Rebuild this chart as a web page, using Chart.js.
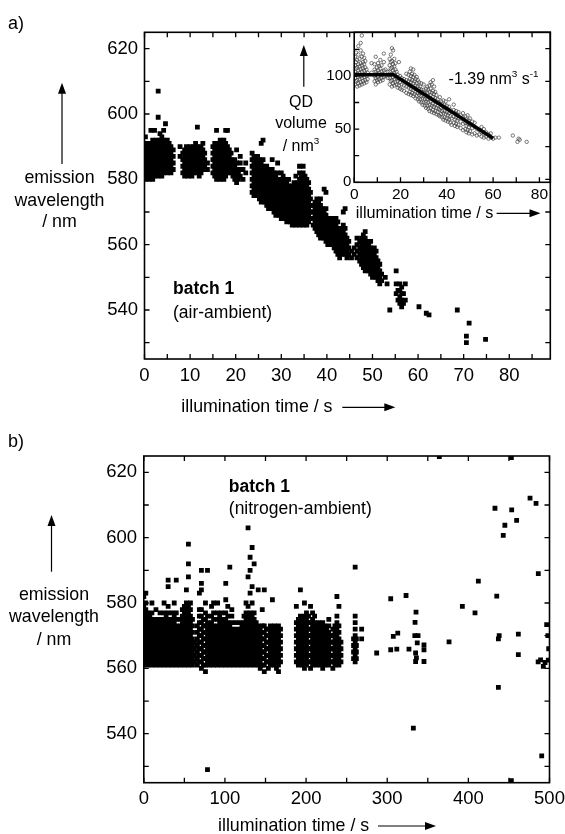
<!DOCTYPE html>
<html>
<head>
<meta charset="utf-8">
<title>QD emission wavelength vs illumination time</title>
<script src="https://cdn.jsdelivr.net/npm/chart.js@4.4.0/dist/chart.umd.min.js"></script>
<style>
    html, body { margin: 0; padding: 0; background: #fff; }
    #figure { position: relative; width: 565px; height: 834px; overflow: hidden; }
    #figure canvas { position: absolute; left: 0; }
    #inset-chart, #air-chart { top: 0; }
    #nitrogen-chart { top: 420px; }
</style>
</head>
<body>
<div id="figure">
    <canvas id="inset-chart" width="565" height="420"></canvas>
    <canvas id="air-chart" width="565" height="420"></canvas>
    <canvas id="nitrogen-chart" width="565" height="414"></canvas>
</div>
<script>
// ---- data ----
// each column: [illumination time (s), wavelength (nm), wavelength, ...]
const airColumns = [
    [0.2, 580, 582, 584, 586, 588, 590, 593], [0.6, 581, 583, 585, 587, 589, 591],
    [1.0, 580, 582, 584, 586, 588, 590], [1.4, 581, 583, 585, 587, 589, 591, 595],
    [1.8, 580, 582, 584, 586, 588, 590, 592], [2.2, 581, 583, 585, 587, 589, 591, 595],
    [2.6, 582, 584, 586, 588, 590, 592], [3.0, 581, 583, 585, 587, 589, 591, 599, 607],
    [3.4, 582, 584, 586, 588, 590, 592, 594], [3.8, 581, 583, 585, 587, 589, 591, 593],
    [4.2, 582, 584, 586, 588, 590, 592, 595], [4.6, 583, 585, 587, 589, 591, 597],
    [5.0, 582, 584, 586, 588, 590, 592], [5.4, 583, 585, 587, 589, 591],
    [5.8, 582, 584, 586, 588, 590], [6.3, 583, 585, 587, 589], [7.8, 587, 590],
    [8.4, 582, 584, 586, 588], [8.8, 581, 583, 585, 587, 589], [9.2, 582, 584, 586, 588, 590],
    [9.6, 581, 583, 585, 587, 589], [10.0, 582, 584, 586, 588, 590], [10.4, 581, 583, 585, 587, 589],
    [10.8, 582, 584, 586, 588, 590], [11.2, 583, 585, 587, 589, 591], [11.6, 582, 584, 586, 588, 590, 596],
    [12.0, 581, 583, 585, 587, 589], [12.4, 582, 584, 586, 588, 590], [12.8, 583, 585, 587, 589, 591],
    [13.2, 584, 586, 588], [13.8, 583, 585],
    [15.0, 582, 584, 586, 588, 590], [15.4, 581, 583, 585, 587, 589, 591],
    [15.8, 580, 582, 584, 586, 588, 590, 595], [16.2, 581, 583, 585, 587, 589, 591],
    [16.6, 580, 582, 584, 586, 588, 590, 592], [17.0, 581, 583, 585, 587, 589, 591],
    [17.4, 580, 582, 584, 586, 588, 590, 592], [17.8, 581, 583, 585, 587, 589, 591, 595],
    [18.2, 582, 584, 586, 588, 590, 595], [18.6, 583, 585, 587, 589], [19.0, 582, 584, 586, 588],
    [19.4, 581, 583, 585], [19.8, 580, 582, 584, 586], [20.2, 579, 581, 583, 585, 589],
    [20.6, 580, 582], [21.0, 581, 583, 585, 587], [21.6, 580, 583], [22.2, 582, 585],
    [23.6, 576, 578, 580, 582, 584, 586, 588], [24.0, 575, 577, 579, 581, 583, 585, 587],
    [24.4, 576, 578, 580, 582, 584, 586], [24.8, 575, 577, 579, 581, 583, 585, 587],
    [25.2, 574, 576, 578, 580, 582, 584, 586], [25.6, 573, 575, 577, 579, 581, 583, 585, 591],
    [26.0, 574, 576, 578, 580, 582, 584, 586, 592], [26.4, 573, 575, 577, 579, 581, 583],
    [26.8, 572, 574, 576, 578, 580, 582, 584], [27.2, 571, 573, 575, 577, 579, 581, 583],
    [27.6, 572, 574, 576, 578, 580, 582], [28.0, 571, 573, 575, 577, 579, 581, 583, 586],
    [28.4, 570, 572, 574, 576, 578, 580, 582], [28.8, 569, 571, 573, 575, 577, 579, 581],
    [29.2, 570, 572, 574, 576, 578, 580, 582, 585], [29.6, 569, 571, 573, 575, 577, 579],
    [30.0, 568, 570, 572, 574, 576, 578, 580, 582], [30.4, 569, 571, 573, 575, 577, 579, 581],
    [30.8, 568, 570, 572, 574, 576, 578, 580], [31.2, 567, 569, 571, 573, 575, 577, 579],
    [31.6, 568, 570, 572, 574, 576, 578, 580], [32.0, 567, 569, 571, 573, 575, 577],
    [32.4, 566, 568, 570, 572, 574, 576, 578], [32.8, 567, 569, 571, 573, 575, 577, 579],
    [33.2, 566, 568, 570, 572, 574, 576, 578, 581], [33.6, 567, 569, 571, 573, 575, 577, 579],
    [34.0, 566, 568, 570, 572, 574, 576, 578, 580, 582, 584], [34.4, 567, 569, 571, 573, 575, 577, 579, 581],
    [34.8, 566, 568, 570, 572, 574, 576, 578, 580, 582, 584], [35.2, 567, 569, 571, 573, 575, 577, 579, 581],
    [35.6, 566, 568, 570, 572, 574, 576, 578, 580], [36.0, 567, 569, 571, 573, 575, 577, 579],
    [36.4, 568, 570, 572, 574, 576],
    [37.0, 566, 568, 570, 572], [37.4, 565, 567, 569, 571, 573], [37.8, 564, 566, 568, 570, 572, 574],
    [38.2, 563, 565, 567, 569, 571, 573], [38.6, 562, 564, 566, 568, 570, 572, 574],
    [39.0, 563, 565, 567, 569, 571], [39.4, 562, 564, 566, 568, 570, 577],
    [39.8, 561, 563, 565, 567, 569, 571, 576], [40.2, 560, 562, 564, 566, 568], [40.6, 561, 563, 565, 567],
    [41.2, 560, 562, 564, 566, 568], [41.6, 559, 561, 563, 565, 567], [42.0, 558, 560, 562, 564, 566, 568],
    [42.4, 557, 559, 561, 563, 565, 567], [42.8, 556, 558, 560, 562, 564], [43.2, 557, 559, 561, 563, 565],
    [43.6, 558, 560, 562, 564, 566, 570], [44.0, 557, 559, 561, 563, 565, 571], [44.4, 556, 558, 560, 562],
    [44.8, 557, 559, 561], [45.4, 556, 558], [46.0, 557, 559],
    [46.6, 556, 558, 560, 562], [47.2, 555, 557, 559, 561], [47.6, 554, 556, 558, 560, 562],
    [48.0, 553, 555, 557, 559, 561, 563], [48.4, 552, 554, 556, 558, 560, 562, 564],
    [48.8, 553, 555, 557, 559, 561], [49.2, 552, 554, 556, 558, 560], [49.6, 551, 553, 555, 557, 559, 561],
    [50.0, 550, 552, 554, 556, 558], [50.4, 551, 553, 555, 557, 559], [50.8, 550, 552, 554, 556, 558],
    [51.2, 549, 551, 553, 555], [51.6, 548, 550, 552, 554], [52.0, 549, 551],
    [52.8, 550], [53.2, 548], [53.8, 540], [55.2, 545, 548, 552], [55.6, 543, 546],
    [56.0, 542, 544, 546, 548], [56.4, 541, 543, 545, 547], [56.8, 542, 545], [57.2, 543, 548],
    [60.2, 541], [61.8, 539], [62.4, 538.5], [68.6, 540], [70.6, 530, 532], [71.2, 536], [74.8, 531]
];

// inset: [time (s), QD volume (nm^3), ...]
const volumeColumns = [
    [0.3, 92, 98, 104, 110, 118], [0.8, 95, 101, 107, 113, 122], [1.3, 90, 96, 102, 108, 115],
    [1.8, 93, 99, 105, 111, 120, 128], [2.3, 91, 97, 103, 109, 116], [2.8, 94, 100, 106, 112, 124, 131],
    [3.3, 92, 98, 104, 110, 118, 138], [3.8, 95, 101, 107, 113, 121], [4.3, 93, 99, 105, 111, 117],
    [4.8, 96, 102, 108, 114], [5.3, 94, 100, 106], [5.8, 97, 103], [7.5, 103, 112],
    [8.8, 95, 100, 106, 111], [9.3, 92, 98, 104, 118], [9.8, 96, 102, 108], [10.3, 94, 99, 105, 112],
    [10.8, 97, 103, 109], [11.3, 95, 101, 107, 115], [11.8, 98, 104, 110], [12.3, 96, 102],
    [12.8, 99, 105, 113, 121], [13.5, 100, 106], [14.5, 98, 104],
    [15.3, 92, 98, 104, 110, 116], [15.8, 95, 101, 107, 113, 120], [16.3, 90, 96, 102, 108, 114, 126],
    [16.8, 93, 99, 105, 111, 124], [17.3, 91, 97, 103, 109, 116], [17.8, 94, 100, 106, 112],
    [18.3, 92, 98, 104], [18.8, 89, 95, 101], [19.3, 91, 97, 113], [19.8, 88, 94, 100],
    [20.5, 87, 92, 98], [21.5, 86, 91, 97], [22.5, 84, 90, 96, 102], [23.5, 83, 89, 95, 101],
    [24.0, 85, 91, 97, 104], [24.5, 82, 88, 94, 100, 107], [25.0, 84, 90, 96, 102],
    [25.5, 81, 87, 93, 99, 106], [26.0, 83, 89, 95, 101], [26.5, 79, 85, 91, 97], [27.0, 81, 87, 93, 99],
    [27.5, 78, 84, 90, 96], [28.0, 76, 82, 88, 94], [28.5, 78, 84, 90], [29.0, 75, 81, 87, 93],
    [29.5, 73, 79, 85], [30.0, 75, 81, 87, 92], [30.5, 72, 78, 84], [31.0, 70, 76, 82, 88],
    [31.5, 72, 78, 84, 90], [32.0, 69, 75, 81, 87], [32.5, 67, 73, 79, 85, 91], [33.0, 70, 76, 82, 88, 94],
    [33.5, 66, 72, 78, 84, 92], [34.0, 68, 74, 80, 86, 96], [34.5, 65, 71, 77, 83, 90], [35.0, 67, 73, 79, 85],
    [35.5, 64, 70, 76, 82], [36.0, 66, 72, 78], [36.5, 63, 69, 75], [37.0, 62, 68, 74, 80],
    [37.5, 64, 70, 76], [38.0, 61, 67, 73], [38.5, 59, 65, 71, 77], [39.0, 61, 67, 73],
    [39.5, 58, 64, 70, 76], [40.0, 60, 66, 72], [40.5, 57, 63, 69], [41.0, 59, 65, 71, 78],
    [41.5, 56, 62, 68], [42.0, 54, 60, 66], [43.0, 56, 62, 68, 73], [43.5, 53, 59, 65],
    [44.0, 55, 61, 67], [44.5, 52, 58, 64], [45.0, 54, 60, 66], [46.0, 51, 57, 63],
    [47.0, 49, 55, 61, 65], [48.0, 50, 56, 62], [48.5, 47, 53, 59], [49.0, 49, 55, 63],
    [49.5, 46, 52, 58], [50.0, 48, 54, 60], [51.0, 45, 51, 57], [52.0, 46, 52, 56], [53.0, 44, 50],
    [54.0, 45, 49], [55.0, 43, 47, 52], [56.0, 42, 46, 50], [57.0, 43, 47], [58.0, 41, 45],
    [59.0, 42, 46], [60.0, 41], [61.0, 42], [62.5, 42], [68.5, 44], [70.5, 38], [71.0, 41],
    [71.5, 40], [74.5, 38]
];
const fitTimes = [0, 17, 60];
const fitVolumes = [101, 101, 41.5];

// nitrogen ambient: dense columns, then isolated points [time, wavelength]
const nitrogenColumns = [
    [0, 561, 563, 565, 567, 569, 571, 573, 575, 577, 579, 582],
    [2.5, 562, 564, 566, 568, 570, 572, 574, 576, 578, 580, 583],
    [5, 561, 563, 565, 567, 569, 571, 573, 575, 577], [7.5, 562, 564, 566, 568, 570, 572, 574, 576],
    [10, 561, 563, 565, 567, 569, 571, 573, 575, 577, 580], [12.5, 562, 564, 566, 568, 570, 572, 574],
    [15, 561, 563, 565, 567, 569, 571, 573, 575, 578], [17.5, 562, 564, 566, 568, 570, 572, 574],
    [20, 561, 563, 565, 567, 569, 571, 573, 575, 577], [22.5, 562, 564, 566, 568, 570, 572, 574],
    [25, 561, 563, 565, 567, 569, 571, 573, 575, 577, 580], [27.5, 562, 564, 566, 568, 570, 572, 574, 576],
    [30, 561, 563, 565, 567, 569, 571, 573, 575, 577, 579, 585, 587], [32.5, 562, 564, 566, 568, 570, 572, 574],
    [35, 561, 563, 565, 567, 569, 571, 573, 575, 577], [37.5, 562, 564, 566, 568, 570, 572, 574, 576, 580],
    [40, 561, 563, 565, 567, 569, 571, 573, 575, 577, 587], [42.5, 562, 564, 566, 568, 570, 572],
    [45, 561, 563, 565, 567, 569, 571, 573, 575], [47.5, 562, 564, 566, 568, 570, 572, 574, 576, 578],
    [50, 561, 563, 565, 567, 569, 571, 573, 575, 577, 579],
    [52.5, 562, 564, 566, 568, 570, 572, 574, 576, 578, 580, 584],
    [55, 561, 563, 565, 567, 569, 571, 573, 575, 577, 579, 588, 592, 598],
    [57.5, 562, 564, 566, 568, 570, 572, 574, 576, 578, 580],
    [60, 561, 563, 565, 567, 569, 571, 573, 575], [62.5, 562, 564, 566, 568],
    [66, 561, 563, 565, 567, 569, 571, 573], [68.5, 562, 564, 566, 568, 570, 572, 574, 576, 578, 583],
    [71, 560, 562, 564, 566, 568, 570, 572, 574, 576, 578, 584, 586, 590],
    [73.5, 561, 563, 565, 567, 569, 571, 573, 575],
    [76, 559, 561, 563, 565, 567, 569, 571, 573, 575, 577, 580],
    [78.5, 562, 564, 566, 568, 570, 572, 574, 576, 590, 529], [81, 561, 563, 565, 567, 569, 571, 573],
    [83.5, 562, 564, 566, 568, 570, 572, 574, 576, 579], [86, 561, 563, 565, 567, 569, 571, 573, 575, 577, 580],
    [88.5, 562, 564, 566, 568, 570, 572], [91, 561, 563, 565, 567, 569, 571, 573, 575, 577, 580],
    [93.5, 562, 564, 566, 568, 570, 572, 574, 576], [96, 561, 563, 565, 567, 569, 571, 573, 575, 577],
    [98.5, 562, 564, 566, 568, 570, 572, 574], [101, 561, 563, 565, 567, 569, 571, 573, 575, 577, 581, 586],
    [103.5, 562, 564, 566, 568, 570, 572, 574, 576, 579], [106, 561, 563, 565, 567, 569, 571, 573, 591],
    [108.5, 562, 564, 566, 568, 570, 572, 574, 576, 578], [111, 561, 563, 565, 567, 569, 571],
    [113.5, 562, 564, 566, 568, 570, 572, 574], [116, 561, 563, 565, 567, 569, 571],
    [118.5, 562, 564, 566, 568, 570, 572, 574], [121, 561, 563, 565, 567, 569, 571, 573],
    [123.5, 562, 564, 566, 568, 570, 572, 574, 576], [126, 561, 563, 565, 567, 569, 571, 573, 575, 577, 580],
    [128.5, 562, 564, 566, 568, 570, 572, 574, 576, 579, 588, 603],
    [131, 561, 563, 565, 567, 569, 571, 573, 575, 577, 583, 590, 594],
    [133.5, 562, 564, 566, 568, 570, 572, 574, 576, 580, 585, 597],
    [136, 561, 563, 565, 567, 569, 571, 573, 575, 577, 592], [138.5, 562, 564, 566, 568, 570, 572, 574],
    [141, 561, 563, 565, 567, 569, 571, 573, 584], [143.5, 560, 562, 564, 566, 568, 570, 572],
    [146, 561, 563, 565, 567, 569, 571, 573, 578], [148.5, 559, 561, 563, 565, 567, 569, 571, 573, 584],
    [151, 562, 564, 566, 568, 570, 572], [153.5, 560, 562, 564, 566, 568, 570, 572],
    [156, 561, 563, 565, 567, 569, 571, 573], [158.5, 562, 564, 566, 568, 570, 572, 581],
    [161, 561, 563, 565, 567, 569, 571, 573], [163.5, 560, 562, 564, 566, 568, 570, 572],
    [166, 559, 561, 563, 565, 567, 569, 571, 573], [168.5, 562, 564, 566, 568, 570, 572],
    [188, 562, 564, 566, 568, 570, 572, 574, 579], [190.5, 561, 563, 565, 567, 569, 571, 573, 575],
    [193, 562, 564, 566, 568, 570, 572, 574, 576, 584], [195.5, 561, 563, 565, 567, 569, 571, 573, 575],
    [198, 560, 562, 564, 566, 568, 570, 572, 574, 576, 580], [200.5, 561, 563, 565, 567, 569, 571, 573, 575, 577],
    [203, 562, 564, 566, 568, 570, 572, 574, 576], [205.5, 560, 562, 564, 566, 568, 570, 572, 574, 579],
    [208, 561, 563, 565, 567, 569, 571, 573, 575, 577], [210.5, 562, 564, 566, 568, 570, 572, 574, 576],
    [213, 561, 563, 565, 567, 569, 571, 573], [215.5, 562, 564, 566, 568, 570, 572, 574],
    [218, 561, 563, 565, 567, 569, 571, 573], [220.5, 560, 562, 564, 566, 568, 570, 572, 574],
    [223, 561, 563, 565, 567, 569, 571, 573], [225.5, 562, 564, 566, 568, 570, 572],
    [228, 561, 563, 565, 567, 569, 571, 573, 575], [230.5, 562, 564, 566, 568, 570],
    [233, 560, 562, 564, 566, 568, 570, 572], [235.5, 561, 563, 565, 567, 569, 571, 573],
    [238, 562, 564, 566, 568, 570, 572, 574, 576, 582], [240.5, 561, 563, 565, 567, 569, 571, 573, 579],
    [243, 562, 564, 566, 568],
    [258.5, 563, 565, 567, 569], [260.5, 562, 564, 566, 568, 570, 572, 574, 576, 591],
    [262, 563, 565, 567, 569], [268.5, 569, 572]
];
const nitrogenScatter = [
    [287, 564.7], [304.3, 581.3], [304.3, 565.7], [307.5, 569.8], [311.8, 565.9], [313, 570.8],
    [323.2, 582.3], [326.8, 565.9], [332.2, 541.7], [334.3, 574.1], [334, 570], [335, 564.7],
    [335, 562.1], [335.5, 577.2], [337, 567.8], [338, 570], [336, 563.2], [345.3, 567.2],
    [345.3, 565.7], [345.3, 562.1], [364.2, 624.8], [376.2, 568.1], [392.6, 579], [408.2, 577],
    [412.3, 586.7], [432.8, 609], [435, 582.1], [437, 569], [438, 570], [437, 554.2],
    [443, 600.7], [445, 603.8], [453.4, 608.5], [453, 624.5], [453, 525.6], [459.5, 605.3],
    [461.6, 570.5], [461.6, 564.2], [476, 612.1], [483.4, 610.5], [486.2, 589], [486, 562],
    [489, 562.6], [490.4, 533.2], [492.4, 560.6], [494.5, 561.8], [496.5, 573.4], [498, 570],
    [499, 566], [498.5, 562.5]
];

const airTimeTicks = [0, 5, 10, 15, 20, 25, 30, 35, 40, 45, 50, 55, 60, 65, 70, 75, 80, 85];
const wavelengthTicks = [530, 540, 550, 560, 570, 580, 590, 600, 610, 620];
const insetTimeTicks = [0, 10, 20, 30, 40, 50, 60, 70, 80];
const volumeTicks = [0, 25, 50, 75, 100, 125];
const nitrogenTimeTicks = [0, 50, 100, 150, 200, 250, 300, 350, 400, 450, 500];

// ---- helpers ----
const FONT = '"Liberation Sans", Arial, Helvetica, sans-serif';
Chart.defaults.font.family = FONT;
Chart.defaults.color = '#000';
const TICK_LEN = 5;

function columnsToPoints(columns) {
    const points = [];
    columns.forEach(col => {
        col.slice(1).forEach(v => points.push({ x: col[0], y: v }));
    });
    return points;
}

function axis(min, max, tickValues, label, fontSize, padding, size) {
    return {
        type: 'linear',
        min: min,
        max: max,
        grid: { display: false, drawTicks: false },
        border: { display: false },
        ticks: {
            autoSkip: false,
            maxRotation: 0,
            padding: padding,
            color: '#000',
            font: { size: fontSize, lineHeight: 1 },
            callback: label
        },
        afterBuildTicks: s => { s.ticks = tickValues.map(v => ({ value: v })); },
        afterFit: s => {
            if (s.isHorizontal()) s.height = size; else s.width = size;
            s.paddingLeft = s.paddingRight = s.paddingTop = s.paddingBottom = 0;
        }
    };
}

function drawText(ctx, runs, x, y, size, align, bold) {
    const font = s => (bold ? 'bold ' : '') + s + 'px ' + FONT;
    const supSize = size * 0.62;
    let width = 0;
    runs.forEach(([t, sup]) => { ctx.font = font(sup ? supSize : size); width += ctx.measureText(t).width; });
    let cx = align === 'center' ? x - width / 2 : x;
    ctx.textAlign = 'left';
    ctx.textBaseline = 'middle';
    ctx.fillStyle = '#000';
    runs.forEach(([t, sup]) => {
        ctx.font = font(sup ? supSize : size);
        ctx.fillText(t, cx, sup ? y - size * 0.36 : y);
        cx += ctx.measureText(t).width;
    });
}

function arrowUp(ctx, x, tip, base) {
    ctx.beginPath();
    ctx.moveTo(x, base); ctx.lineTo(x, tip + 8);
    ctx.lineWidth = 1.2; ctx.strokeStyle = '#000'; ctx.stroke();
    ctx.beginPath();
    ctx.moveTo(x, tip); ctx.lineTo(x - 4, tip + 11); ctx.lineTo(x + 4, tip + 11); ctx.closePath();
    ctx.fillStyle = '#000'; ctx.fill();
}

function arrowRight(ctx, base, tip, y) {
    ctx.beginPath();
    ctx.moveTo(base, y); ctx.lineTo(tip - 8, y);
    ctx.lineWidth = 1.2; ctx.strokeStyle = '#000'; ctx.stroke();
    ctx.beginPath();
    ctx.moveTo(tip, y); ctx.lineTo(tip - 11, y - 4); ctx.lineTo(tip - 11, y + 4); ctx.closePath();
    ctx.fillStyle = '#000'; ctx.fill();
}

function frameAndTicks(chart, sides) {
    const ctx = chart.ctx;
    const { left, right, top, bottom } = chart.chartArea;
    const xs = chart.scales.x, ys = chart.scales.y;
    ctx.save();
    ctx.strokeStyle = '#000';
    ctx.lineWidth = 1.3;
    ctx.beginPath();
    xs.ticks.forEach(t => {
        const px = xs.getPixelForValue(t.value);
        if (sides.includes('bottom')) { ctx.moveTo(px, bottom); ctx.lineTo(px, bottom - TICK_LEN); }
        if (sides.includes('top')) { ctx.moveTo(px, top); ctx.lineTo(px, top + TICK_LEN); }
    });
    ys.ticks.forEach(t => {
        const py = ys.getPixelForValue(t.value);
        if (sides.includes('left')) { ctx.moveTo(left, py); ctx.lineTo(left + TICK_LEN, py); }
        if (sides.includes('right')) { ctx.moveTo(right, py); ctx.lineTo(right - TICK_LEN, py); }
    });
    ctx.stroke();
    ctx.lineWidth = 1.6;
    ctx.strokeRect(left, top, right - left, bottom - top);
    ctx.restore();
}

const baseOptions = {
    responsive: false,
    animation: false,
    devicePixelRatio: 1,
    plugins: { legend: { display: false }, tooltip: { enabled: false } }
};

// ---- inset (drawn underneath panel a) ----
new Chart(document.getElementById('inset-chart'), {
    type: 'scatter',
    data: {
        datasets: [
            {
                type: 'line',
                data: fitTimes.map((t, i) => ({ x: t, y: fitVolumes[i] })),
                borderColor: '#000',
                borderWidth: 3.5,
                pointRadius: 0,
                fill: false
            },
            {
                data: columnsToPoints(volumeColumns),
                pointStyle: 'circle',
                pointRadius: 1.7,
                backgroundColor: 'rgba(0,0,0,0)',
                borderColor: '#404040',
                borderWidth: 0.7
            }
        ]
    },
    options: {
        ...baseOptions,
        layout: { padding: { top: 32.3, right: 14.7, left: 0, bottom: 0 } },
        scales: {
            x: axis(0, 84.7, insetTimeTicks, v => (v % 20 === 0 ? String(v) : ''), 15.5, 5, 237.7),
            y: axis(0, 141, volumeTicks, v => (v % 50 === 0 ? String(v) : ''), 15, 2.8, 354.2)
        }
    },
    plugins: [{
        id: 'insetDecor',
        afterDraw(chart) {
            const ctx = chart.ctx;
            frameAndTicks(chart, ['left', 'bottom']);
            ctx.save();
            drawText(ctx, [['QD']], 301, 102.3, 16, 'center');
            drawText(ctx, [['volume']], 301, 124, 16, 'center');
            drawText(ctx, [['/ nm'], ['3', true]], 301, 146.7, 16, 'center');
            arrowUp(ctx, 303.8, 45, 86.7);
            drawText(ctx, [['illumination time / s']], 355.7, 213.3, 16.2, 'left');
            arrowRight(ctx, 496.6, 540.5, 213.3);
            drawText(ctx, [['-1.39 nm'], ['3', true], [' s'], ['-1', true]], 448.6, 80, 16, 'left');
            ctx.restore();
        }
    }]
});

// ---- panel a: air ambient ----
new Chart(document.getElementById('air-chart'), {
    type: 'scatter',
    data: {
        datasets: [{
            data: columnsToPoints(airColumns),
            pointStyle: 'rect',
            pointRadius: 3.4,
            backgroundColor: '#000',
            borderWidth: 0
        }]
    },
    options: {
        ...baseOptions,
        layout: { padding: { top: 32.3, right: 14.7, left: 0, bottom: 0 } },
        scales: {
            x: axis(0, 89, airTimeTicks, v => (v % 10 === 0 && v <= 80 ? String(v) : ''), 18.5, 7.5, 61),
            y: axis(525, 625, wavelengthTicks, v => (v % 20 === 0 ? String(v) : ''), 18.5, 6.5, 144.5)
        }
    },
    plugins: [{
        id: 'airDecor',
        afterDraw(chart) {
            const ctx = chart.ctx;
            frameAndTicks(chart, ['left', 'right', 'top', 'bottom']);
            ctx.save();
            drawText(ctx, [['a)']], 8, 24, 18, 'left');
            drawText(ctx, [['emission']], 59.5, 178.3, 17.8, 'center');
            drawText(ctx, [['wavelength']], 59.5, 200.7, 17.8, 'center');
            drawText(ctx, [['/ nm']], 59.5, 222.3, 17.8, 'center');
            arrowUp(ctx, 62, 82.7, 164);
            drawText(ctx, [['illumination time / s']], 181.3, 407.3, 17.8, 'left');
            arrowRight(ctx, 342.3, 395.3, 407.3);
            drawText(ctx, [['batch 1']], 173, 289.3, 17.5, 'left', true);
            drawText(ctx, [['(air-ambient)']], 173, 312.7, 17.5, 'left');
            ctx.restore();
        }
    }]
});

// ---- panel b: nitrogen ambient ----
new Chart(document.getElementById('nitrogen-chart'), {
    type: 'scatter',
    data: {
        datasets: [{
            data: columnsToPoints(nitrogenColumns).concat(nitrogenScatter.map(p => ({ x: p[0], y: p[1] }))),
            pointStyle: 'rect',
            pointRadius: 3.4,
            backgroundColor: '#000',
            borderWidth: 0
        }]
    },
    options: {
        ...baseOptions,
        layout: { padding: { top: 36, right: 15.5, left: 0, bottom: 0 } },
        scales: {
            x: axis(0, 500, nitrogenTimeTicks, v => (v % 100 === 0 ? String(v) : ''), 18.5, 7, 51.3),
            y: axis(525, 625, wavelengthTicks, v => (v % 20 === 0 ? String(v) : ''), 18.5, 6.8, 143.8)
        }
    },
    plugins: [{
        id: 'nitrogenDecor',
        afterDraw(chart) {
            const ctx = chart.ctx;
            frameAndTicks(chart, ['left', 'right', 'top', 'bottom']);
            ctx.save();
            drawText(ctx, [['b)']], 8, 21.7, 18, 'left');
            drawText(ctx, [['emission']], 54, 175, 17.8, 'center');
            drawText(ctx, [['wavelength']], 54, 197.3, 17.8, 'center');
            drawText(ctx, [['/ nm']], 54, 220, 17.8, 'center');
            arrowUp(ctx, 51.5, 95, 151.7);
            drawText(ctx, [['illumination time / s']], 218, 406, 17.8, 'left');
            arrowRight(ctx, 378, 436, 406);
            drawText(ctx, [['batch 1']], 228.8, 66.7, 17.5, 'left', true);
            drawText(ctx, [['(nitrogen-ambient)']], 228.8, 89.3, 17.5, 'left');
            ctx.restore();
        }
    }]
});
</script>
</body>
</html>
